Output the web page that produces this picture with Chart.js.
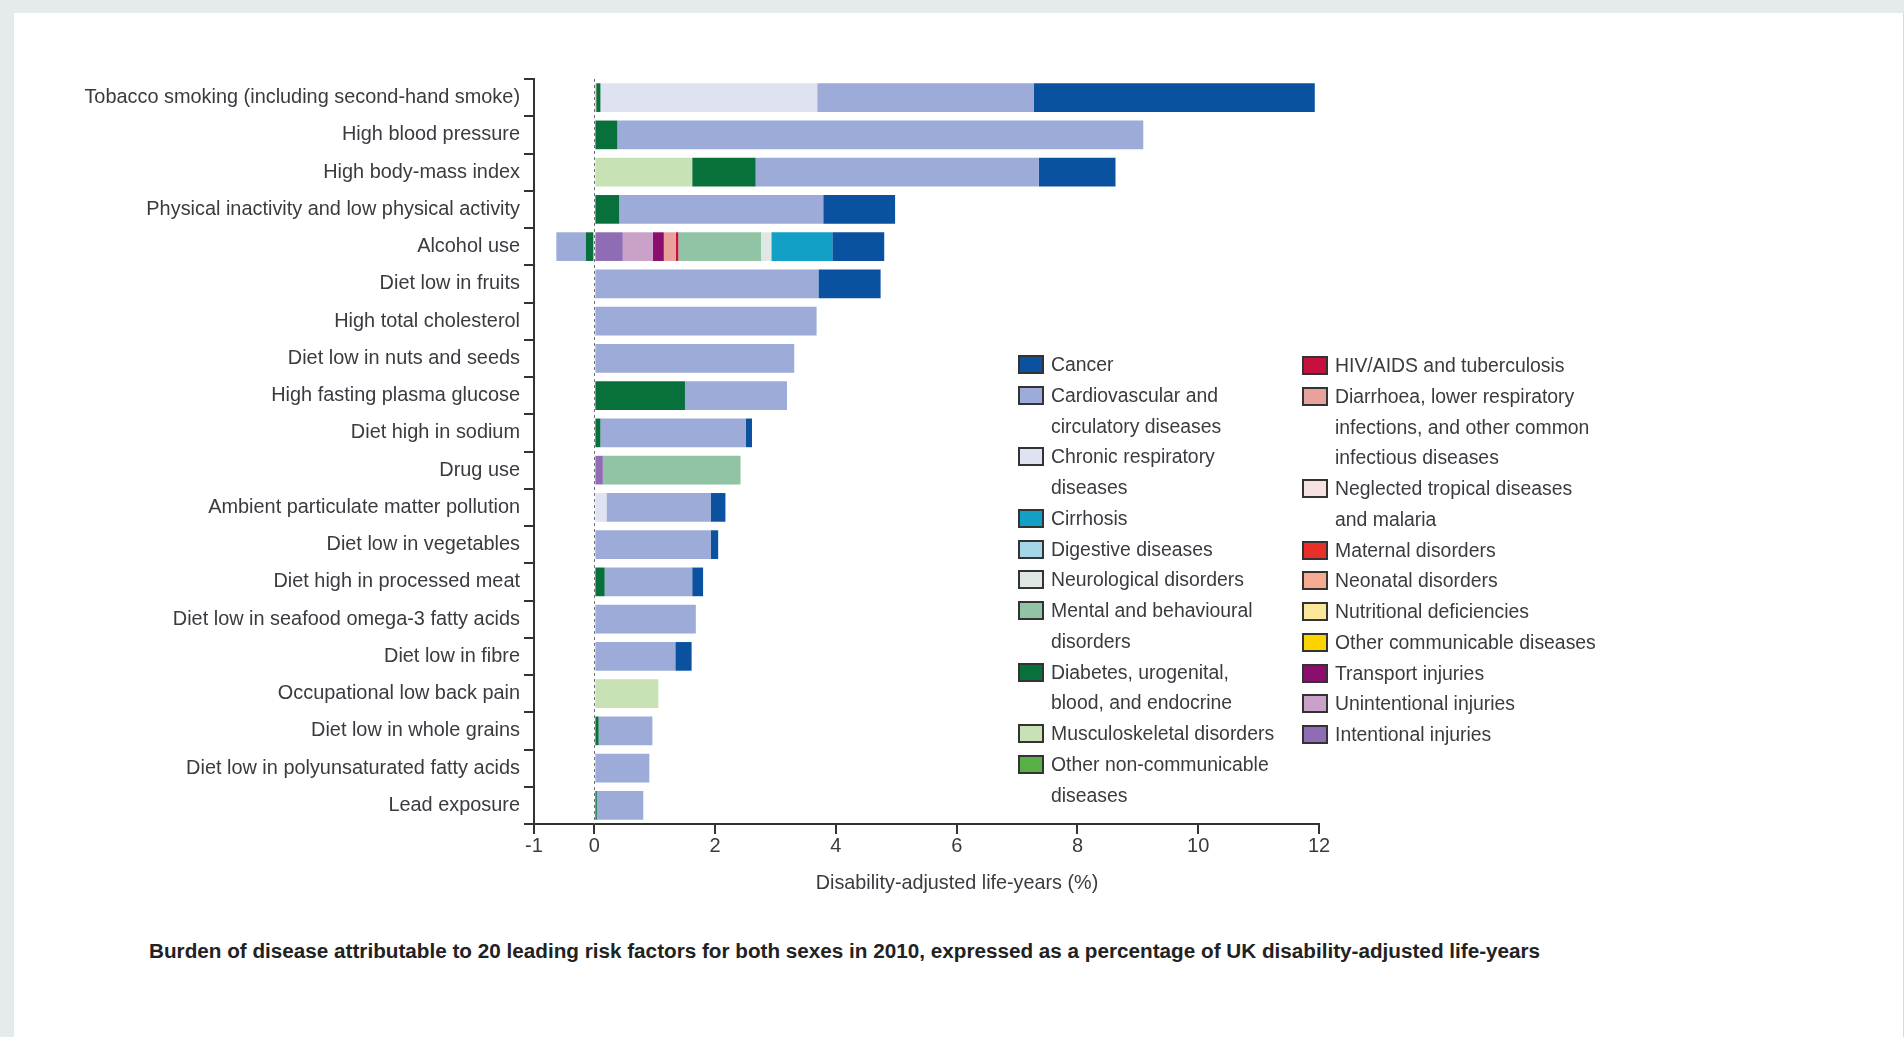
<!DOCTYPE html>
<html>
<head>
<meta charset="utf-8">
<title>UK burden of disease by risk factor, 2010</title>
<script src="https://cdn.jsdelivr.net/npm/chart.js@4/dist/chart.umd.min.js"></script>
<style>
  html, body { margin: 0; padding: 0; }
  body {
    width: 1904px; height: 1037px; position: relative; overflow: hidden;
    background: #e5eaed;
    font-family: 'Liberation Sans', Arial, sans-serif;
    color: #3a3a40;
  }
  #panel {
    position: absolute; left: 14px; top: 13px; width: 1889px; height: 1024px;
    background: #ffffff; border-right: 1px solid #d5dadd;
  }
  #chart { position: absolute; left: 0; top: 0; }
  #xtitle {
    position: absolute; left: 957px; top: 866px; transform: translateX(-50%);
    font-size: 19.8px; line-height: 32px; white-space: nowrap;
  }
  .legend { position: absolute; font-size: 19.4px; }
  .legend .item {
    position: relative; padding-left: 33px; line-height: 30.75px;
    white-space: pre-line;
  }
  .legend .box {
    position: absolute; left: 0; top: 6px; width: 22px; height: 15px;
    border: 2px solid #333;
  }
  #caption {
    position: absolute; left: 149px; top: 936px;
    font-weight: bold; font-size: 20.7px; line-height: 30px; white-space: nowrap;
    color: #222;
  }
</style>
</head>
<body>
<div id="panel"></div>
<canvas id="chart" width="1904" height="910"></canvas>
<div id="xtitle">Disability-adjusted life-years (%)</div>
<div class="legend" id="legendLeft" style="left:1018px; top:349px;"></div>
<div class="legend" id="legendRight" style="left:1302px; top:350px;"></div>
<div id="caption">Burden of disease attributable to 20 leading risk factors for both sexes in 2010, expressed as a percentage of UK disability-adjusted life-years</div>

<script>
// Risk factors, top to bottom
const riskFactors = [
  'Tobacco smoking (including second-hand smoke)',
  'High blood pressure',
  'High body-mass index',
  'Physical inactivity and low physical activity',
  'Alcohol use',
  'Diet low in fruits',
  'High total cholesterol',
  'Diet low in nuts and seeds',
  'High fasting plasma glucose',
  'Diet high in sodium',
  'Drug use',
  'Ambient particulate matter pollution',
  'Diet low in vegetables',
  'Diet high in processed meat',
  'Diet low in seafood omega-3 fatty acids',
  'Diet low in fibre',
  'Occupational low back pain',
  'Diet low in whole grains',
  'Diet low in polyunsaturated fatty acids',
  'Lead exposure'
];

// Attributable DALYs (% of all UK DALYs), one value per risk factor above
const cancer         = [4.65, 0, 1.27, 1.19, 0.86, 1.03, 0, 0, 0, 0.10, 0, 0.24, 0.12, 0.18, 0, 0.27, 0, 0, 0, 0];
const cardiovascular = [3.59, 8.71, 4.69, 3.38, -0.49, 3.71, 3.68, 3.31, 1.69, 2.41, 0, 1.73, 1.93, 1.45, 1.68, 1.34, 0, 0.89, 0.91, 0.77];
const chronicResp    = [3.59, 0, 0, 0, 0, 0, 0, 0, 0, 0, 0, 0.20, 0, 0, 0, 0, 0, 0, 0, 0];
const cirrhosis      = [0, 0, 0, 0, 1.01, 0, 0, 0, 0, 0, 0, 0, 0, 0, 0, 0, 0, 0, 0, 0];
const digestive      = [0, 0, 0, 0, 0, 0, 0, 0, 0, 0, 0, 0, 0, 0, 0, 0, 0, 0, 0, 0];
const neurological   = [0, 0, 0, 0, 0.17, 0, 0, 0, 0, 0, 0, 0, 0, 0, 0, 0, 0, 0, 0, 0];
const mental         = [0, 0, 0, 0, 1.37, 0, 0, 0, 0, 0, 2.28, 0, 0, 0, 0, 0, 0, 0, 0, 0];
const diabetes       = [0.07, 0.38, 1.05, 0.41, -0.14, 0, 0, 0, 1.50, 0.10, 0, 0, 0, 0.17, 0, 0, 0, 0.07, 0, 0.04];
const musculoskeletal= [0, 0, 1.62, 0, 0, 0, 0, 0, 0, 0, 0, 0, 0, 0, 0, 0, 1.06, 0, 0, 0];
const otherNcd       = [0, 0, 0, 0, 0, 0, 0, 0, 0, 0, 0, 0, 0, 0, 0, 0, 0, 0, 0, 0];
const hivTb          = [0, 0, 0, 0, 0.04, 0, 0, 0, 0, 0, 0, 0, 0, 0, 0, 0, 0, 0, 0, 0];
const diarrhoeaLri   = [0.03, 0, 0, 0, 0.20, 0, 0, 0, 0, 0, 0, 0, 0, 0, 0, 0, 0, 0, 0, 0];
const tropicalMalaria= [0, 0, 0, 0, 0, 0, 0, 0, 0, 0, 0, 0, 0, 0, 0, 0, 0, 0, 0, 0];
const maternal       = [0, 0, 0, 0, 0, 0, 0, 0, 0, 0, 0, 0, 0, 0, 0, 0, 0, 0, 0, 0];
const neonatal       = [0, 0, 0, 0, 0, 0, 0, 0, 0, 0, 0, 0, 0, 0, 0, 0, 0, 0, 0, 0];
const nutritional    = [0, 0, 0, 0, 0, 0, 0, 0, 0, 0, 0, 0, 0, 0, 0, 0, 0, 0, 0, 0];
const otherComm      = [0, 0, 0, 0, 0, 0, 0, 0, 0, 0, 0, 0, 0, 0, 0, 0, 0, 0, 0, 0];
const transport      = [0, 0, 0, 0, 0.18, 0, 0, 0, 0, 0, 0, 0, 0, 0, 0, 0, 0, 0, 0, 0];
const unintentional  = [0, 0, 0, 0, 0.50, 0, 0, 0, 0, 0, 0, 0, 0, 0, 0, 0, 0, 0, 0, 0];
const intentional    = [0, 0, 0, 0, 0.47, 0, 0, 0, 0, 0, 0.14, 0, 0, 0, 0, 0, 0, 0, 0, 0];

// X axis tick values
const xTicks = [-1, 0, 2, 4, 6, 8, 10, 12];

// Causes in legend order ("\n" marks the legend line breaks)
const causes = [
  { text: 'Cancer', data: cancer, color: '#0a52a0' },
  { text: 'Cardiovascular and\ncirculatory diseases', data: cardiovascular, color: '#9cabd8' },
  { text: 'Chronic respiratory\ndiseases', data: chronicResp, color: '#dfe2f0' },
  { text: 'Cirrhosis', data: cirrhosis, color: '#12a0c6' },
  { text: 'Digestive diseases', data: digestive, color: '#a5d6e8' },
  { text: 'Neurological disorders', data: neurological, color: '#dfe8e3' },
  { text: 'Mental and behavioural\ndisorders', data: mental, color: '#90c4a4' },
  { text: 'Diabetes, urogenital,\nblood, and endocrine', data: diabetes, color: '#08703a' },
  { text: 'Musculoskeletal disorders', data: musculoskeletal, color: '#c8e2b5' },
  { text: 'Other non-communicable\ndiseases', data: otherNcd, color: '#58b047' },
  { text: 'HIV/AIDS and tuberculosis', data: hivTb, color: '#c8103f' },
  { text: 'Diarrhoea, lower respiratory\ninfections, and other common\ninfectious diseases', data: diarrhoeaLri, color: '#e8a29b' },
  { text: 'Neglected tropical diseases\nand malaria', data: tropicalMalaria, color: '#f6e3e1' },
  { text: 'Maternal disorders', data: maternal, color: '#ea2e28' },
  { text: 'Neonatal disorders', data: neonatal, color: '#f5ab8f' },
  { text: 'Nutritional deficiencies', data: nutritional, color: '#fbe89a' },
  { text: 'Other communicable diseases', data: otherComm, color: '#fbd300' },
  { text: 'Transport injuries', data: transport, color: '#8b0d6e' },
  { text: 'Unintentional injuries', data: unintentional, color: '#c9a1c9' },
  { text: 'Intentional injuries', data: intentional, color: '#8f6db5' }
];

// Stack from zero outwards in reverse legend order
const datasets = causes.slice().reverse().map(c => ({
  label: c.text.replace(/\n/g, ' '),
  data: c.data,
  backgroundColor: c.color,
  borderWidth: 0,
  categoryPercentage: 0.77,
  barPercentage: 1.0
}));

// Dashed reference line at zero
const zeroLine = {
  id: 'zeroLine',
  beforeDatasetsDraw(chart) {
    const { ctx, chartArea, scales: { x } } = chart;
    const px = Math.round(x.getPixelForValue(0)) + 0.5;
    ctx.save();
    ctx.strokeStyle = '#6f7480';
    ctx.lineWidth = 1;
    ctx.setLineDash([3, 3]);
    ctx.beginPath();
    ctx.moveTo(px, chartArea.top);
    ctx.lineTo(px, chartArea.bottom);
    ctx.stroke();
    ctx.restore();
  }
};

const textFont = "'Liberation Sans', Arial, sans-serif";
const axisColor = '#333333';

new Chart(document.getElementById('chart'), {
  type: 'bar',
  data: { labels: riskFactors, datasets },
  options: {
    indexAxis: 'y',
    responsive: false,
    devicePixelRatio: 1,
    animation: false,
    events: [],
    layout: { padding: { top: 79, right: 585, bottom: 10, left: 0 } },
    plugins: { legend: { display: false }, tooltip: { enabled: false } },
    scales: {
      x: {
        type: 'linear',
        stacked: true,
        min: -1,
        max: 12,
        afterBuildTicks: scale => { scale.ticks = xTicks.map(v => ({ value: v })); },
        afterFit: scale => { scale.height = 76; },
        grid: {
          drawOnChartArea: false, drawTicks: true, tickLength: 10,
          color: axisColor, tickColor: axisColor, lineWidth: 2
        },
        border: { display: true, color: axisColor, width: 2 },
        ticks: {
          padding: 2,
          color: '#3a3a40',
          font: { family: textFont, size: 20, lineHeight: 1 }
        }
      },
      y: {
        type: 'category',
        stacked: true,
        afterFit: scale => { scale.width = 534; },
        grid: {
          offset: true, drawOnChartArea: false, drawTicks: true, tickLength: 10,
          color: axisColor, tickColor: axisColor, lineWidth: 2
        },
        border: { display: true, color: axisColor, width: 2 },
        ticks: {
          padding: 4,
          color: '#3a3a40',
          autoSkip: false,
          font: { family: textFont, size: 19.9 }
        }
      }
    }
  },
  plugins: [zeroLine]
});

// Two-column legend
function fillLegend(el, items) {
  items.forEach(c => {
    const item = document.createElement('div');
    item.className = 'item';
    const box = document.createElement('span');
    box.className = 'box';
    box.style.background = c.color;
    item.appendChild(box);
    item.appendChild(document.createTextNode(c.text));
    el.appendChild(item);
  });
}
fillLegend(document.getElementById('legendLeft'), causes.slice(0, 10));
fillLegend(document.getElementById('legendRight'), causes.slice(10));
</script>
</body>
</html>
